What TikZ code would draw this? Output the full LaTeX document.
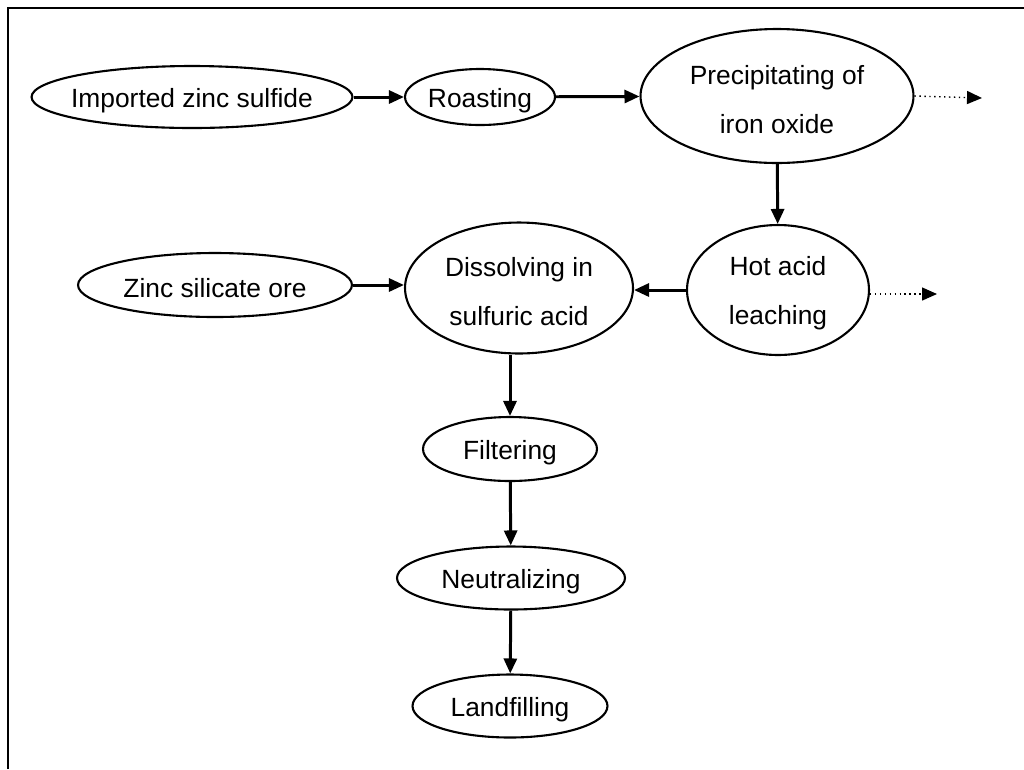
\documentclass[tikz,border=0pt]{standalone}
\usepackage{fontspec}
\setmainfont{Liberation Sans}
\usetikzlibrary{shapes.geometric,arrows.meta}
\tikzset{
  x=0.02cm, y=-0.02cm,
  proc/.style={ellipse, draw, line width=1.2pt, inner sep=0pt},
  txt/.style={align=center, inner sep=0pt, yshift=-2pt,
    font=\fontsize{15}{28}\selectfont},
  flow/.style={line width=1.7pt, -{Triangle[length=0.3cm,width=0.26cm]}},
  side/.style={line width=0.8pt, dotted, -{Triangle[length=0.3cm,width=0.26cm]}},
}
\begin{document}
\begin{tikzpicture}
\useasboundingbox (0,0) rectangle (1024,769);
\draw[line width=1.2pt] (8,769) -- (8,8) -- (1024,8);

\node[proc, minimum width=6.42cm, minimum height=1.24cm, label={[txt]center:Imported zinc sulfide}] (imp) at (192,97) {};
\node[proc, minimum width=3.0cm, minimum height=1.12cm, label={[txt]center:Roasting}] (roast) at (480,97) {};
\node[proc, minimum width=5.46cm, minimum height=2.68cm, label={[txt]center:Precipitating of\\iron oxide}] (prec) at (777,96) {};
\node[proc, minimum width=3.64cm, minimum height=2.6cm, label={[txt]center:Hot acid\\leaching}] (hot) at (778,290) {};
\node[proc, minimum width=4.56cm, minimum height=2.62cm, label={[txt]center:Dissolving in\\sulfuric acid}] (diss) at (519,288) {};
\node[proc, minimum width=5.48cm, minimum height=1.28cm, label={[txt]center:Zinc silicate ore}] (zsil) at (215,285) {};
\node[proc, minimum width=3.48cm, minimum height=1.28cm, label={[txt]center:Filtering}] (filt) at (510,449) {};
\node[proc, minimum width=4.56cm, minimum height=1.26cm, label={[txt]center:Neutralizing}] (neut) at (511,578) {};
\node[proc, minimum width=3.9cm, minimum height=1.26cm, label={[txt]center:Landfilling}] (land) at (510,706) {};

\coordinate (pout) at (982,98);
\coordinate (hout) at (937,294);

\draw[flow] (imp) -- (roast);
\draw[flow] (roast) -- (prec);
\draw[flow] (prec) -- (hot);
\draw[flow] (hot.west) -- (diss.east |- hot.west);
\draw[flow] (zsil.east) -- (diss.west |- zsil.east);
\draw[flow] (diss.south -| filt.north) -- (filt.north);
\draw[flow] (filt) -- (neut);
\draw[flow] (neut) -- (land);
\draw[side] (prec.east) -- (pout);
\draw[side] (hot.east |- hout) -- (hout);
\end{tikzpicture}
\end{document}
